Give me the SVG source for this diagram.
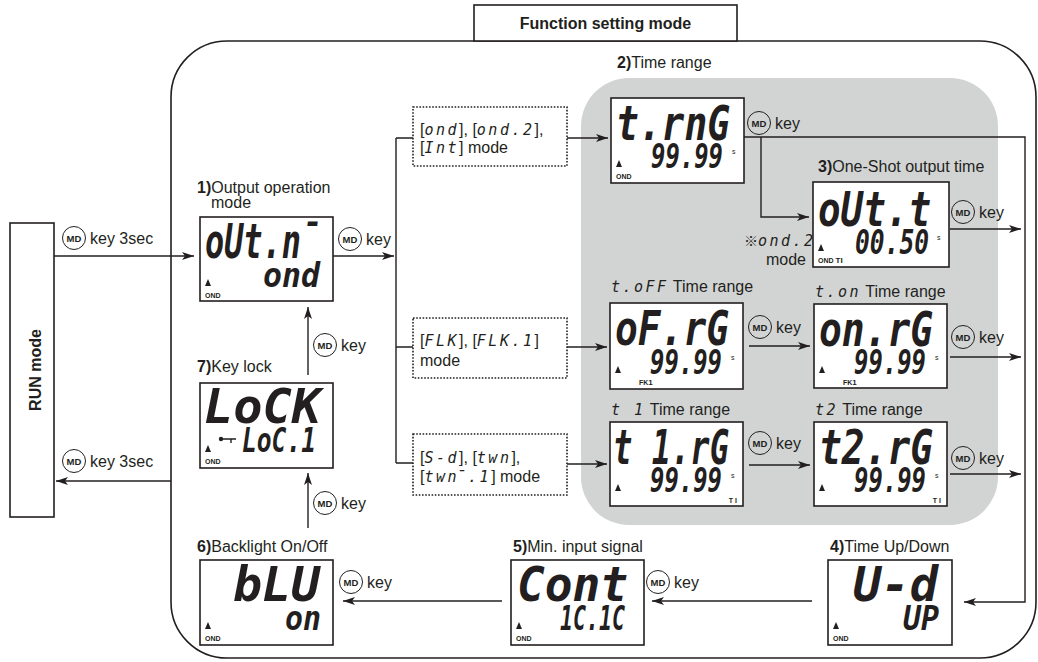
<svg xmlns="http://www.w3.org/2000/svg" width="1038" height="662" viewBox="0 0 1038 662">
<defs>
<style>
.ln{fill:none;stroke:#231f20;stroke-width:1.4}
.lcd{fill:#fff;stroke:#231f20;stroke-width:1.6}
.dbox{fill:#fff;stroke:#231f20;stroke-width:1.6;stroke-dasharray:1.6 1.6}
.t{font-family:"Liberation Sans",Arial,sans-serif;font-size:16px;fill:#231f20}
.b{font-weight:bold}
.sg{font-family:"DejaVu Sans Mono",monospace;font-weight:bold;font-style:oblique;fill:#231f20}
.big{font-size:48px}
.sm{font-size:33px}
.ss{font-family:"DejaVu Sans Mono",monospace;font-style:oblique;font-size:15px;letter-spacing:2.5px;fill:#231f20}
.tiny{font-family:"Liberation Sans",Arial,sans-serif;font-size:7px;font-weight:bold;fill:#231f20}
.unit{font-family:"Liberation Sans",Arial,sans-serif;font-size:7px;fill:#231f20}
.mdc{fill:none;stroke:#231f20;stroke-width:1}
.mdt{font-family:"Liberation Sans",Arial,sans-serif;font-size:9.5px;font-weight:bold;fill:#231f20;text-anchor:middle}
.tri{fill:#231f20}
</style>
<marker id="ah" viewBox="0 0 12 8" refX="12" refY="4" markerWidth="12" markerHeight="8" markerUnits="userSpaceOnUse" orient="auto"><path d="M0,0 L12,4 L0,8 L3,4z" fill="#231f20"/></marker>
<g id="md"><circle class="mdc" r="11.5"/><text class="mdt" y="3.5">MD</text></g>
</defs>
<rect width="1038" height="662" fill="#fff"/>

<g id="frame">
<rect x="171" y="41" width="865" height="617" rx="56" fill="none" stroke="#231f20" stroke-width="1.6"/>
<rect x="581" y="78" width="417" height="447" rx="48" fill="#d2d4d4"/>
</g>

<g id="title">
<rect x="474" y="5" width="263" height="36" fill="#fff" stroke="#231f20" stroke-width="1.6"/>
<text class="t b" x="605.5" y="29" font-size="17.5" text-anchor="middle">Function setting mode</text>
</g>

<g id="run">
<rect x="10" y="223" width="44" height="294" fill="#fff" stroke="#231f20" stroke-width="1.6"/>
<text class="t b" font-size="17.5" text-anchor="middle" transform="translate(41,370) rotate(-90)">RUN mode</text>
</g>

<g id="connectors">
<path class="ln" d="M54,256 H194" marker-end="url(#ah)"/>
<path class="ln" d="M333,256 H394" marker-end="url(#ah)"/>
<path class="ln" d="M396,138 V463 M396,138 H413 M396,347 H413 M396,463 H413"/>
<path class="ln" d="M567,138 H608" marker-end="url(#ah)"/>
<path class="ln" d="M567,347 H607" marker-end="url(#ah)"/>
<path class="ln" d="M567,464 H607" marker-end="url(#ah)"/>
<path class="ln" d="M744,137 H1025 V602 H964" marker-end="url(#ah)"/>
<path class="ln" d="M761,137 V217 H809" marker-end="url(#ah)"/>
<path class="ln" d="M950,229 H1021" marker-end="url(#ah)"/>
<path class="ln" d="M749,346 H810" marker-end="url(#ah)"/>
<path class="ln" d="M950,357 H1021" marker-end="url(#ah)"/>
<path class="ln" d="M749,465 H810" marker-end="url(#ah)"/>
<path class="ln" d="M950,474 H1021" marker-end="url(#ah)"/>
<path class="ln" d="M812,601 H652" marker-end="url(#ah)"/>
<path class="ln" d="M502,601 H343" marker-end="url(#ah)"/>
<path class="ln" d="M308,528 V473" marker-end="url(#ah)"/>
<path class="ln" d="M308,375 V307" marker-end="url(#ah)"/>
<path class="ln" d="M171,481 H56" marker-end="url(#ah)"/>
</g>

<g id="keylabels">
<use href="#md" x="74" y="238"/><text class="t" x="90" y="244">key 3sec</text>
<use href="#md" x="350" y="239"/><text class="t" x="366" y="245">key</text>
<use href="#md" x="759" y="123"/><text class="t" x="775" y="129">key</text>
<use href="#md" x="963" y="212"/><text class="t" x="979" y="218">key</text>
<use href="#md" x="760" y="327"/><text class="t" x="776" y="333">key</text>
<use href="#md" x="963" y="337"/><text class="t" x="979" y="343">key</text>
<use href="#md" x="760" y="443"/><text class="t" x="776" y="449">key</text>
<use href="#md" x="963" y="458"/><text class="t" x="979" y="464">key</text>
<use href="#md" x="658" y="582"/><text class="t" x="674" y="588">key</text>
<use href="#md" x="351" y="582"/><text class="t" x="367" y="588">key</text>
<use href="#md" x="325" y="503"/><text class="t" x="341" y="509">key</text>
<use href="#md" x="325" y="345"/><text class="t" x="341" y="351">key</text>
<use href="#md" x="74" y="461"/><text class="t" x="90" y="467">key 3sec</text>
</g>

<g id="modeboxes">
<rect class="dbox" x="413" y="107" width="154" height="59"/>
<text class="t" x="420" y="135">[<tspan class="ss">ond</tspan>], [<tspan class="ss">ond.2</tspan>],</text>
<text class="t" x="420" y="153">[<tspan class="ss">Int</tspan>] mode</text>
<rect class="dbox" x="413" y="318" width="154" height="60"/>
<text class="t" x="420" y="346">[<tspan class="ss">FLK</tspan>], [<tspan class="ss">FLK.1</tspan>]</text>
<text class="t" x="420" y="366">mode</text>
<rect class="dbox" x="413" y="434" width="154" height="61"/>
<text class="t" x="420" y="463">[<tspan class="ss">S-d</tspan>], [<tspan class="ss">twn</tspan>],</text>
<text class="t" x="420" y="482">[<tspan class="ss">twn̄.1</tspan>] mode</text>
</g>

<g id="labels">
<text class="t" x="197" y="193"><tspan class="b">1)</tspan>Output operation</text>
<text class="t" x="211" y="208">mode</text>
<text class="t" x="617" y="68"><tspan class="b">2)</tspan>Time range</text>
<text class="t" x="818" y="172"><tspan class="b">3)</tspan>One-Shot output time</text>
<text class="t" x="830" y="552"><tspan class="b">4)</tspan>Time Up/Down</text>
<text class="t" x="513" y="552"><tspan class="b">5)</tspan>Min. input signal</text>
<text class="t" x="197" y="552"><tspan class="b">6)</tspan>Backlight On/Off</text>
<text class="t" x="197" y="372"><tspan class="b">7)</tspan>Key lock</text>
<text class="t" x="744" y="246"><tspan font-family="'Noto Sans CJK JP',sans-serif" font-size="14">※</tspan><tspan class="ss" font-size="14" letter-spacing="0.3">ond.2</tspan></text>
<text class="t" x="806" y="265" text-anchor="end">mode</text>
<text class="t" x="611" y="292" font-size="15.5"><tspan class="ss" letter-spacing="1.5">t.oFF</tspan> Time range</text>
<text class="t" x="815" y="297" font-size="15.5"><tspan class="ss" letter-spacing="1.5">t.on</tspan> Time range</text>
<text class="t" x="611" y="415" font-size="17.5"><tspan class="ss" font-size="16">t 1</tspan> Time range</text>
<text class="t" x="815" y="415" font-size="17.5"><tspan class="ss" font-size="16">t2</tspan> Time range</text>
</g>

<g id="lcd1" transform="translate(200,217)">
<rect class="lcd" width="133" height="84"/>
<text class="sg big" x="5" y="41" textLength="115" lengthAdjust="spacingAndGlyphs">oUt.n̄</text>
<text class="sg sm" x="63" y="70" textLength="57" lengthAdjust="spacingAndGlyphs">ond</text>
<path class="tri" d="M5,69 l3,-7 l3,7z"/><text class="tiny" x="5" y="81">OND</text>
</g>

<g id="lcd2" transform="translate(611,98)">
<rect class="lcd" width="133" height="85"/>
<text class="sg big" x="5" y="42" textLength="114" lengthAdjust="spacingAndGlyphs">t.rnG</text>
<text class="sg sm" x="40" y="70" textLength="72" lengthAdjust="spacingAndGlyphs">99.99</text>
<text class="unit" x="121" y="56">s</text>
<path class="tri" d="M5,69 l3,-7 l3,7z"/><text class="tiny" x="5" y="81">OND</text>
</g>

<g id="lcd3" transform="translate(813,182)">
<rect class="lcd" width="136" height="85"/>
<text class="sg big" x="5" y="44" textLength="113" lengthAdjust="spacingAndGlyphs">oUt.t</text>
<text class="sg sm" x="42" y="72" textLength="74" lengthAdjust="spacingAndGlyphs">00.50</text>
<text class="unit" x="124" y="58">s</text>
<path class="tri" d="M5,69 l3,-7 l3,7z"/><text class="tiny" x="5" y="81">OND <tspan font-size="8">TI</tspan></text>
</g>

<g id="lcd4" transform="translate(610,303)">
<rect class="lcd" width="133" height="86"/>
<text class="sg big" x="5" y="42" textLength="114" lengthAdjust="spacingAndGlyphs">oF.rG</text>
<text class="sg sm" x="40" y="71" textLength="72" lengthAdjust="spacingAndGlyphs">99.99</text>
<text class="unit" x="121" y="57">s</text>
<path class="tri" d="M5,70 l3,-7 l3,7z"/><text class="tiny" x="29" y="82">FK<tspan font-size="8">1</tspan></text>
</g>

<g id="lcd5" transform="translate(814,304)">
<rect class="lcd" width="133" height="84"/>
<text class="sg big" x="5" y="42" textLength="114" lengthAdjust="spacingAndGlyphs">on.rG</text>
<text class="sg sm" x="40" y="70" textLength="72" lengthAdjust="spacingAndGlyphs">99.99</text>
<text class="unit" x="121" y="56">s</text>
<path class="tri" d="M5,69 l3,-7 l3,7z"/><text class="tiny" x="29" y="81">FK<tspan font-size="8">1</tspan></text>
</g>

<g id="lcd6" transform="translate(610,422)">
<rect class="lcd" width="133" height="84"/>
<text class="sg big" x="3" y="42" textLength="116" lengthAdjust="spacingAndGlyphs">t 1.rG</text>
<text class="sg sm" x="40" y="70" textLength="72" lengthAdjust="spacingAndGlyphs">99.99</text>
<text class="unit" x="121" y="56">s</text>
<path class="tri" d="M5,69 l3,-7 l3,7z"/><text class="tiny" x="127" y="81" text-anchor="end">T I</text>
</g>

<g id="lcd7" transform="translate(814,422)">
<rect class="lcd" width="133" height="84"/>
<text class="sg big" x="5" y="42" textLength="114" lengthAdjust="spacingAndGlyphs">t2.rG</text>
<text class="sg sm" x="40" y="70" textLength="72" lengthAdjust="spacingAndGlyphs">99.99</text>
<text class="unit" x="121" y="56">s</text>
<path class="tri" d="M5,69 l3,-7 l3,7z"/><text class="tiny" x="127" y="81" text-anchor="end">T I</text>
</g>

<g id="lcd8" transform="translate(828,560)">
<rect class="lcd" width="124" height="85"/>
<text class="sg big" x="25" y="41" textLength="85" lengthAdjust="spacingAndGlyphs">U-d</text>
<text class="sg sm" x="75" y="70" textLength="36" lengthAdjust="spacingAndGlyphs">UP</text>
<path class="tri" d="M5,69 l3,-7 l3,7z"/><text class="tiny" x="5" y="81">OND</text>
</g>

<g id="lcd9" transform="translate(511,560)">
<rect class="lcd" width="133" height="85"/>
<text class="sg big" x="6" y="41" textLength="111" lengthAdjust="spacingAndGlyphs">Cont</text>
<text class="sg sm" x="49" y="70" textLength="65" lengthAdjust="spacingAndGlyphs">1C.1C</text>
<path class="tri" d="M5,69 l3,-7 l3,7z"/><text class="tiny" x="5" y="81">OND</text>
</g>

<g id="lcd10" transform="translate(200,560)">
<rect class="lcd" width="133" height="85"/>
<text class="sg big" x="33" y="41" textLength="87" lengthAdjust="spacingAndGlyphs">bLU</text>
<text class="sg sm" x="85" y="70" textLength="36" lengthAdjust="spacingAndGlyphs">on</text>
<path class="tri" d="M5,69 l3,-7 l3,7z"/><text class="tiny" x="5" y="81">OND</text>
</g>

<g id="lcd11" transform="translate(200,383)">
<rect class="lcd" width="133" height="85"/>
<text class="sg big" x="4" y="40" textLength="117" lengthAdjust="spacingAndGlyphs">LoCK</text>
<text class="sg sm" x="42" y="69" textLength="74" lengthAdjust="spacingAndGlyphs">LoC.1</text>
<path class="tri" d="M5,69 l3,-7 l3,7z"/>
<circle cx="21" cy="56" r="2.2" fill="#231f20"/><path d="M21,56 H36 M31,56 V60" stroke="#231f20" stroke-width="1.4"/>
<text class="tiny" x="5" y="81">OND</text>
</g>
</svg>
